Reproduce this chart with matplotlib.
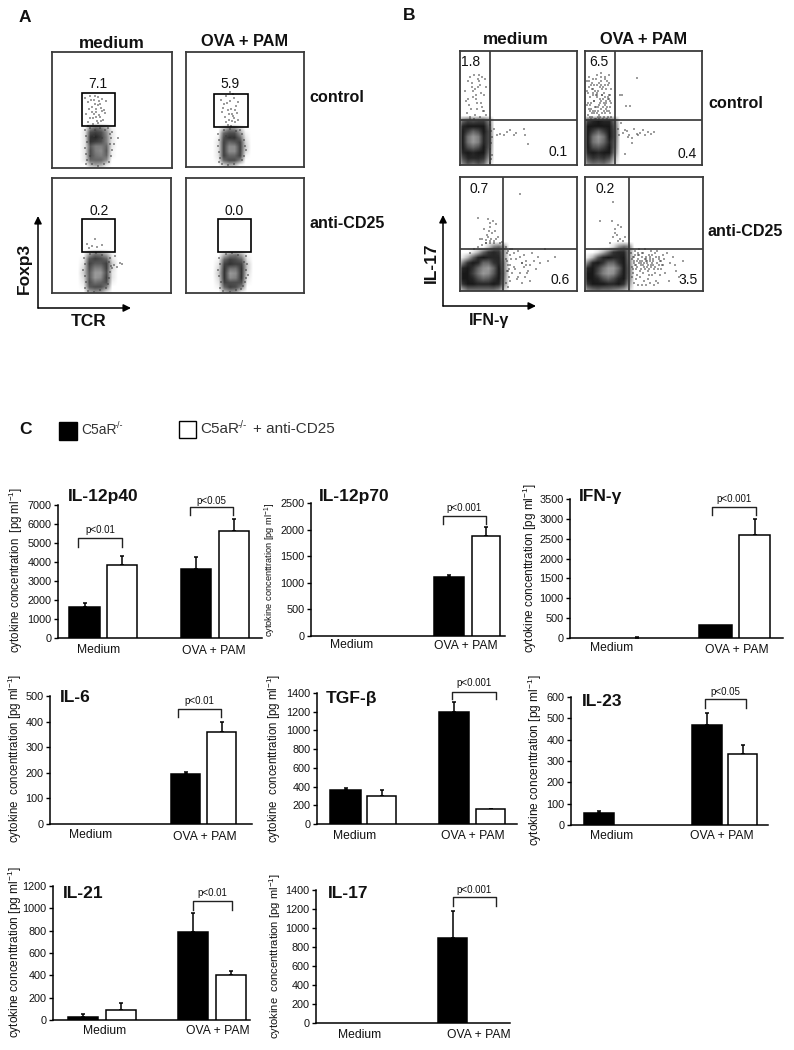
import matplotlib
matplotlib.use('Agg')
import matplotlib.pyplot as plt
from matplotlib.patches import Rectangle
import numpy as np

plt.rcParams['font.family'] = ['Liberation Sans', 'DejaVu Sans']
plt.rcParams['mathtext.default'] = 'regular'

W, H = 794, 1050
TXT = '#111111'

# bar values: [Medium, OVA + PAM], 0 means no bar
il12p40_black = [1650, 3650]
il12p40_white = [3830, 5650]
il12p40_black_top = [1840, 4280]
il12p40_white_top = [4330, 6260]
il12p70_black = [0, 1100]
il12p70_white = [0, 1880]
il12p70_black_top = [0, 1140]
il12p70_white_top = [0, 2050]
ifng_black = [0, 320]
ifng_white = [0, 2600]
ifng_black_top = [0, 0]
ifng_white_top = [25, 3000]
il6_black = [0, 197]
il6_white = [0, 360]
il6_black_top = [0, 205]
il6_white_top = [0, 400]
tgfb_black = [365, 1195]
tgfb_white = [295, 155]
tgfb_black_top = [390, 1300]
tgfb_white_top = [365, 165]
il23_black = [55, 470]
il23_white = [0, 335]
il23_black_top = [65, 525]
il23_white_top = [0, 375]
il21_black = [30, 790]
il21_white = [90, 400]
il21_black_top = [50, 955]
il21_white_top = [150, 440]
il17_black = [0, 900]
il17_white = [0, 0]
il17_black_top = [0, 1180]
il17_white_top = [0, 0]

# flow plots: coarse grey density read off each blob, and the loose dots
# (dots are px offsets from the panel's top left corner)
a1_grid = [[.05, .45, .6, .5, .3, .05],
           [.1, .7, .75, .7, .45, .1],
           [.1, .8, .85, .75, .5, .1],
           [.1, .8, .75, .7, .5, .1],
           [.1, .65, .5, .5, .6, .1],
           [.1, .7, .5, .45, .65, .05],
           [.1, .7, .55, .5, .6, .05],
           [.1, .6, .6, .6, .45, 0],
           [0, .3, .4, .35, .1, 0]]
a1_x = [33, 36, 38, 40, 42, 44, 46, 48, 50, 52, 54, 34, 37, 41, 43, 45, 47, 49, 51, 53, 36, 39, 42, 44, 46, 48, 50, 38, 41, 43, 46, 49, 40, 44, 47, 66, 62,
        33, 34, 35, 33, 34, 35, 34, 36, 60, 59, 58, 60, 59, 57, 56, 58, 38, 43, 48, 53, 40, 46, 52, 42, 50, 38]
a1_y = [46, 50, 44, 55, 48, 60, 45, 52, 47, 58, 49, 62, 57, 66, 52, 69, 63, 56, 68, 61, 70, 48, 62, 57, 71, 65, 59, 66, 72, 44, 53, 69, 60, 65, 49, 86, 92,
        78, 84, 90, 96, 102, 108, 112, 74, 80, 86, 92, 98, 104, 110, 76, 82, 76, 78, 76, 78, 112, 114, 112, 84, 86, 104]

a2_grid = [[0, .25, .5, .45, .2, 0],
           [0, .6, .7, .7, .4, .05],
           [.05, .7, .8, .8, .6, .1],
           [.1, .75, .6, .65, .75, .15],
           [.1, .75, .45, .45, .75, .2],
           [.1, .75, .45, .45, .75, .15],
           [.1, .75, .6, .6, .75, .05],
           [.05, .6, .7, .7, .5, 0],
           [0, .2, .35, .3, .05, 0]]
a2_x = [35, 38, 40, 42, 44, 46, 48, 50, 52, 36, 39, 41, 43, 45, 47, 49, 51, 37, 40, 43, 46, 49, 42, 45, 48, 44, 47, 52,
        32, 33, 32, 33, 34, 33, 56, 58, 59, 60, 58, 56, 54, 38, 44, 50, 36, 42, 48, 40, 46]
a2_y = [48, 52, 44, 58, 49, 62, 46, 54, 50, 60, 65, 51, 68, 57, 64, 70, 61, 56, 70, 62, 69, 58, 73, 74, 66, 40, 42, 68,
        82, 88, 94, 100, 106, 110, 82, 88, 94, 98, 104, 108, 78, 78, 77, 79, 112, 113, 112, 84, 86]

a3_grid = [[0, .35, .55, .5, .3, .05],
           [.05, .65, .75, .7, .6, .1],
           [.1, .75, .65, .65, .75, .2],
           [.15, .7, .5, .5, .75, .15],
           [.2, .65, .4, .4, .7, .1],
           [.15, .65, .4, .45, .75, .1],
           [.1, .7, .55, .6, .7, .05],
           [.05, .65, .7, .7, .5, 0],
           [0, .35, .45, .4, .15, 0]]
a3_x = [35, 40, 43, 45, 50, 37, 60, 62, 65, 68, 70, 57, 63,
        32, 33, 31, 33, 34, 33, 58, 59, 58, 57, 56, 54, 38, 44, 50, 36, 42, 48]
a3_y = [66, 68, 61, 69, 67, 70, 90, 87, 89, 85, 86, 84, 78,
        80, 86, 92, 98, 104, 110, 80, 88, 94, 100, 106, 110, 76, 75, 77, 113, 114, 112]

a4_grid = [[0, .3, .5, .55, .35, .05],
           [.05, .6, .75, .7, .6, .1],
           [.1, .75, .8, .75, .75, .2],
           [.15, .8, .55, .55, .8, .2],
           [.2, .8, .4, .45, .8, .15],
           [.15, .8, .45, .5, .8, .1],
           [.1, .75, .7, .7, .7, .05],
           [.05, .6, .75, .7, .5, 0],
           [0, .3, .45, .4, .1, 0]]
a4_x = [58, 60, 62, 33, 34, 32, 33, 35, 34, 60, 61, 60, 59, 57, 55, 40, 46, 52, 37, 44, 50]
a4_y = [84, 92, 97, 80, 86, 92, 98, 104, 110, 78, 86, 100, 104, 108, 111, 76, 75, 77, 113, 114, 112]

b1_grid = [[.6, .75, .7, .75, .75, .5],
           [.85, .9, .9, .9, .9, .6],
           [.9, .75, .6, .7, .9, .7],
           [.9, .55, .4, .5, .85, .7],
           [.9, .55, .4, .5, .85, .7],
           [.9, .7, .6, .7, .9, .65],
           [.85, .9, .85, .9, .9, .55],
           [.7, .85, .85, .85, .8, .4],
           [.5, .7, .6, .7, .6, .2]]
b1_x = [5, 8, 10, 12, 14, 16, 18, 20, 22, 24, 26, 6, 9, 11, 13, 15, 17, 19, 21, 23, 25, 7, 10, 13, 16, 19, 22, 8, 12, 15, 18, 21, 24, 14, 20, 17, 26, 10,
        34, 37, 40, 44, 47, 50, 54, 56, 64, 65, 68, 30, 31, 32, 31, 30, 32, 31, 30]
b1_y = [40, 30, 26, 36, 24, 44, 28, 34, 26, 44, 36, 50, 54, 58, 46, 38, 52, 30, 42, 60, 28, 62, 66, 40, 48, 24, 56, 48, 32, 64, 36, 52, 60, 68, 66, 58, 64, 68,
        78, 84, 83, 84, 81, 79, 84, 82, 78, 84, 93, 74, 80, 86, 92, 98, 104, 108, 112]

b2_grid = [[.75, .85, .9, .85, .85, .55],
           [.9, .9, .9, .9, .9, .65],
           [.9, .75, .6, .75, .9, .7],
           [.9, .55, .4, .55, .9, .7],
           [.9, .55, .45, .6, .85, .65],
           [.9, .7, .65, .75, .9, .6],
           [.85, .9, .85, .9, .9, .5],
           [.7, .8, .75, .8, .7, .3],
           [.5, .6, .55, .6, .45, .15]]
b2_x = [2, 4, 6, 8, 10, 12, 14, 16, 18, 20, 22, 24, 26, 3, 5, 7, 9, 11, 13, 15, 17, 19, 21, 23, 25, 2, 4, 6, 8, 10, 12, 14, 16, 18, 20, 22, 24, 26, 3, 5, 7, 9, 11, 13, 15, 17, 19, 21, 23, 25, 4, 8, 12, 16, 20, 24, 6, 10, 14, 18, 22, 26, 3, 7, 11, 15, 19, 23,
        5, 9, 13, 17, 21, 25, 2, 16, 20, 12,
        6, 10, 14, 18, 22, 8, 12, 16, 20, 24, 5, 9, 13, 17, 21, 25, 7, 11, 15, 19, 23, 4, 8, 12, 16, 20, 24,
        52, 35, 37, 41, 45, 33, 34, 36, 42, 38, 44, 47, 49, 52, 55, 58, 60, 63, 66, 69, 40, 43, 47, 53, 40]
b2_y = [30, 26, 34, 28, 40, 24, 32, 22, 36, 26, 30, 24, 38, 42, 46, 38, 50, 44, 40, 48, 44, 52, 38, 46, 50, 54, 58, 52, 60, 56, 62, 54, 58, 48, 62, 56, 60, 52, 64, 60, 66, 62, 68, 60, 66, 62, 66, 58, 66, 62, 36, 44, 34, 30, 28, 44, 68, 68, 68, 68, 68, 66, 52, 32, 28, 36, 42, 34,
        66, 34, 56, 38, 50, 56, 40, 26, 54, 44,
        58, 60, 64, 56, 60, 42, 46, 50, 46, 48, 54, 50, 66, 44, 52, 44, 62, 56, 52, 60, 48, 30, 38, 42, 34, 34, 32,
        27, 44, 44, 55, 55, 78, 84, 72, 80, 82, 84, 87, 78, 83, 82, 79, 84, 81, 83, 81, 79, 86, 92, 84, 103]

b3_grid = [[0, 0, 0, 0, 0, .2, .5, .6, .4],
           [0, 0, .1, .3, .6, .8, .85, .8, .4],
           [.1, .3, .6, .85, .9, .85, .85, .85, .4],
           [.5, .8, .9, .85, .6, .6, .8, .85, .5],
           [.85, .9, .8, .6, .45, .4, .6, .9, .5],
           [.9, .9, .75, .55, .4, .45, .65, .9, .55],
           [.9, .9, .85, .7, .6, .65, .8, .9, .5],
           [.8, .9, .9, .85, .85, .85, .9, .85, .45],
           [.4, .6, .6, .6, .6, .6, .6, .5, .2]]
b3_x = [60, 18, 30, 28, 33, 36, 30, 24, 35, 27, 32, 28, 31, 26, 22, 34, 38, 26, 30, 34, 36, 40, 42, 20, 29,
        46, 48, 50, 52, 54, 56, 58, 60, 62, 64, 66, 68, 70, 72, 74, 76, 78, 80, 85, 88, 95, 50, 55, 60, 65, 47, 52, 57, 62, 67, 70, 66, 62, 48, 54, 58, 64, 50,
        47, 46, 48, 47, 49, 46, 48, 50, 51, 49, 10, 14, 18, 22, 26, 30]
b3_y = [17, 41, 46, 42, 44, 47, 50, 52, 54, 58, 56, 60, 62, 63, 62, 64, 60, 66, 66, 66, 62, 66, 65, 62, 54,
        70, 74, 78, 72, 76, 82, 74, 80, 86, 90, 84, 94, 88, 76, 84, 92, 80, 86, 72, 84, 80, 88, 92, 96, 100, 84, 96, 102, 86, 96, 104, 88, 106, 94, 90, 100, 78, 104,
        76, 82, 88, 94, 100, 106, 110, 72, 82, 92, 76, 72, 70, 68, 66, 64]

b4_grid = [[0, 0, 0, 0, 0, .15, .45, .6, .5],
           [0, 0, .1, .3, .55, .8, .85, .85, .5],
           [.1, .3, .65, .85, .9, .85, .85, .9, .5],
           [.5, .85, .9, .8, .6, .6, .8, .9, .55],
           [.85, .9, .75, .55, .4, .4, .6, .9, .6],
           [.9, .9, .7, .5, .4, .45, .7, .9, .6],
           [.9, .9, .85, .7, .6, .7, .85, .9, .55],
           [.8, .9, .9, .9, .85, .85, .9, .8, .4],
           [.5, .6, .65, .6, .6, .55, .5, .4, .2]]
b4_x = [28, 15, 30, 27, 33, 36, 30, 32, 28, 35, 33, 38, 25, 40,
        46, 48, 50, 52, 54, 56, 58, 60, 62, 64, 66, 68, 70, 72, 74, 76, 78, 47, 49, 51, 53, 55, 57, 59, 61, 63, 65, 67, 69, 71, 73, 75, 77, 48, 50, 52, 54, 56, 58, 60, 62, 64, 66, 68, 70, 72, 74, 76, 79, 82, 85, 88, 91, 47, 51, 55, 59, 63, 67, 71, 75, 80, 90, 49, 53, 57, 61, 65, 69, 73, 84, 94, 98, 100,
        47, 49, 51, 53, 55, 57, 59, 61, 63, 65, 67, 48, 50, 52, 54, 56, 58, 60, 62, 64, 66, 68, 49, 53, 57, 61, 65, 70, 74, 78]
b4_y = [25, 44, 56, 44, 48, 50, 52, 58, 60, 62, 64, 64, 66, 60,
        76, 80, 74, 84, 78, 88, 76, 82, 86, 78, 90, 82, 76, 86, 80, 84, 78, 90, 84, 92, 78, 94, 84, 90, 80, 94, 84, 78, 92, 80, 92, 84, 88, 96, 88, 98, 72, 86, 96, 72, 90, 98, 74, 88, 96, 74, 88, 92, 82, 76, 86, 80, 94, 100, 102, 100, 104, 102, 98, 104, 98, 96, 88, 106, 108, 108, 108, 106, 108, 106, 104, 100, 84, 104,
        82, 86, 88, 82, 84, 80, 86, 84, 88, 82, 86, 92, 78, 90, 86, 92, 88, 92, 84, 92, 88, 84, 80, 76, 76, 82, 80, 90, 82, 88]

fig = plt.figure(figsize=(W / 100, H / 100), dpi=100)


def px_axes(x0, y0, x1, y1):
    return fig.add_axes([x0 / W, 1 - y1 / H, (x1 - x0) / W, (y1 - y0) / H])


def flow_panel(x0, y0, x1, y1, grid, extent, px, py, gate=None, quad=None):
    ax = px_axes(x0, y0, x1, y1)
    g = np.pad(np.array(grid), 1)
    dx = (extent[1] - extent[0]) / (g.shape[1] - 2)
    dy = (extent[2] - extent[3]) / (g.shape[0] - 2)
    ax.imshow(g, cmap='gray_r', vmin=0, vmax=1, aspect='auto', interpolation='bilinear',
              extent=(extent[0] - dx, extent[1] + dx, extent[2] + dy, extent[3] - dy))
    ax.scatter(px, py, s=4, marker='s', c='#3c3c3c', alpha=0.5, linewidths=0)
    ax.set_xlim(0, x1 - x0)
    ax.set_ylim(y1 - y0, 0)
    ax.set_xticks([])
    ax.set_yticks([])
    for s in ax.spines.values():
        s.set_linewidth(1.3)
        s.set_color('#3a3a3a')
    if gate:
        ax.add_patch(Rectangle((gate[0] - x0, gate[1] - y0), gate[2] - gate[0], gate[3] - gate[1],
                               fill=False, ec='black', lw=1.2))
    if quad:
        ax.axvline(quad[0] - x0, color='#333333', lw=1.2)
        ax.axhline(quad[1] - y0, color='#333333', lw=1.2)


# panel A
flow_panel(52, 52, 172, 168, a1_grid, (30, 62, 115, 74), a1_x, a1_y, gate=(82, 93, 115, 126))
flow_panel(186, 52, 304, 167, a2_grid, (29, 62, 115, 75), a2_x, a2_y, gate=(214, 94, 248, 127))
flow_panel(52, 178, 171, 293, a3_grid, (29, 63, 116, 74), a3_x, a3_y, gate=(82, 219, 115, 252))
flow_panel(186, 178, 304, 293, a4_grid, (30, 64, 116, 75), a4_x, a4_y, gate=(218, 219, 251, 252))
# panel B
flow_panel(460, 51, 577, 165, b1_grid, (0, 31, 115, 68), b1_x, b1_y, quad=(490, 120))
flow_panel(585, 51, 702, 165, b2_grid, (0, 32, 115, 68), b2_x, b2_y, quad=(615, 120))
flow_panel(460, 177, 577, 291, b3_grid, (0, 46, 115, 68), b3_x, b3_y, quad=(503, 249))
flow_panel(585, 177, 703, 291, b4_grid, (0, 46, 115, 68), b4_x, b4_y, quad=(629, 249))


def draw_bars(box, ymax, step, black, white, black_top, white_top, slots):
    ax = px_axes(*box)
    ax.set_xlim(box[0], box[2])
    ax.set_ylim(0, ymax)
    for s in ['top', 'right']:
        ax.spines[s].set_visible(False)
    for s in ['left', 'bottom']:
        ax.spines[s].set_linewidth(1.1)
    vals = [(slots[0], black[0], black_top[0], 'black'), (slots[1], white[0], white_top[0], 'white'),
            (slots[2], black[1], black_top[1], 'black'), (slots[3], white[1], white_top[1], 'white')]
    for (l, r), v, top, col in vals:
        c = (l + r) / 2
        if top:
            ax.errorbar(c, v, yerr=[[0], [top - v]], color='black', capsize=1.6, lw=1.1,
                        capthick=1.1, zorder=2)
        if v:
            ax.bar(c, v, width=r - l, color=col, edgecolor='black', lw=1.1, zorder=3)
    ax.set_xticks([])
    ax.set_yticks(range(0, ymax + 1, step))
    ax.tick_params(axis='y', labelsize=7.8, length=3, width=1, pad=1.5, labelcolor=TXT)
    ax.patch.set_alpha(0)
    return ax


p40_box = (58, 505, 262, 638)
p70_box = (311, 503, 505, 636)
ifn_box = (570, 499, 783, 638)
il6_box = (50, 696, 252, 824)
tgf_box = (317, 693, 517, 824)
il23_box = (571, 697, 768, 825)
il21_box = (53, 886, 250, 1020)
il17_box = (316, 890, 510, 1023)

draw_bars(p40_box, 7000, 1000, il12p40_black, il12p40_white, il12p40_black_top, il12p40_white_top,
          [(69, 100), (107, 137), (181, 211), (219, 249)])
draw_bars(p70_box, 2500, 500, il12p70_black, il12p70_white, il12p70_black_top, il12p70_white_top,
          [(320, 350), (360, 390), (434, 464), (472, 500)])
draw_bars(ifn_box, 3500, 500, ifng_black, ifng_white, ifng_black_top, ifng_white_top,
          [(590, 620), (622, 652), (699, 732), (739, 770)])
draw_bars(il6_box, 500, 100, il6_black, il6_white, il6_black_top, il6_white_top,
          [(62, 92), (100, 130), (171, 200), (207, 236)])
draw_bars(tgf_box, 1400, 200, tgfb_black, tgfb_white, tgfb_black_top, tgfb_white_top,
          [(330, 361), (367, 396), (439, 469), (476, 505)])
draw_bars(il23_box, 600, 100, il23_black, il23_white, il23_black_top, il23_white_top,
          [(584, 614), (622, 652), (692, 722), (728, 757)])
draw_bars(il21_box, 1200, 200, il21_black, il21_white, il21_black_top, il21_white_top,
          [(68, 98), (106, 136), (178, 208), (216, 246)])
draw_bars(il17_box, 1400, 200, il17_black, il17_white, il17_black_top, il17_white_top,
          [(330, 360), (370, 400), (438, 467), (475, 505)])

# overlay in picture pixels for all the labels
top = fig.add_axes([0, 0, 1, 1])
top.set_xlim(0, W)
top.set_ylim(H, 0)
top.axis('off')
top.patch.set_alpha(0)


def t(x, y, s, size=8, weight='normal', ha='center', rot=0, color=TXT):
    top.text(x, y, s, fontsize=size, fontweight=weight, ha=ha, va='center', rotation=rot, color=color)


def bracket(x0, x1, y, y_end, label, lab_y):
    top.plot([x0, x0, x1, x1], [y_end, y, y, y_end], color='#222222', lw=1)
    t((x0 + x1) / 2, lab_y, label, size=7)


def arrows(x, y_bot, y_top, x_end):
    for end in [(x, y_top), (x_end, y_bot)]:
        top.annotate('', xy=end, xytext=(x, y_bot),
                     arrowprops=dict(arrowstyle='-|>', color='black', lw=1.1, mutation_scale=11,
                                     shrinkA=0, shrinkB=0))


t(19, 17, 'A', 12.5, 'bold', ha='left')
t(403, 15, 'B', 12.5, 'bold', ha='left')
t(19, 429, 'C', 12.5, 'bold', ha='left')

t(112, 43, 'medium', 12.3, 'bold')
t(245, 42, 'OVA + PAM', 11.8, 'bold')
t(516, 40, 'medium', 12.3, 'bold')
t(644, 40, 'OVA + PAM', 11.8, 'bold')
t(309, 97, 'control', 11.6, 'bold', ha='left')
t(309, 224, 'anti-CD25', 11.6, 'bold', ha='left')
t(708, 104, 'control', 11.6, 'bold', ha='left')
t(708, 231, 'anti-CD25', 11.6, 'bold', ha='left')

for x, y, s in [(98, 84, '7.1'), (230, 84, '5.9'), (99, 211, '0.2'), (234, 211, '0.0'),
                (471, 62, '1.8'), (599, 62, '6.5'), (558, 152, '0.1'), (687, 154, '0.4'),
                (479, 189, '0.7'), (605, 189, '0.2'), (560, 280, '0.6'), (688, 280, '3.5')]:
    t(x, y, s, 10)

arrows(38, 308, 216, 131)
arrows(443, 306, 215, 536)
t(24, 268, 'Foxp3', 12.5, 'bold', rot=90)
t(89, 321, 'TCR', 12.5, 'bold')
t(431, 263, 'IL-17', 12.5, 'bold', rot=90)
t(489, 320, 'IFN-γ', 11.5, 'bold')

# legend for panel C
top.add_patch(Rectangle((59, 422), 18, 18, fc='black', ec='black', lw=1))
top.add_patch(Rectangle((179, 421), 17, 17, fc='white', ec='black', lw=1))
t(81, 430, 'C5aR', 10, ha='left', color='#333333')
t(115, 426, '-/-', 6.5, ha='left', color='#333333')
t(200, 429, 'C5aR', 11, ha='left', color='#333333')
t(238, 425, '-/-', 7, ha='left', color='#333333')
t(253, 429, '+ anti-CD25', 11, ha='left', color='#333333')

# titles
t(103, 497, 'IL-12p40', 12.5, 'bold')
t(354, 496, 'IL-12p70', 12.5, 'bold')
t(600, 497, 'IFN-γ', 12.5, 'bold')
t(75, 698, 'IL-6', 12.5, 'bold')
t(352, 699, 'TGF-β', 12.5, 'bold')
t(602, 702, 'IL-23', 12.5, 'bold')
t(83, 893, 'IL-21', 12.5, 'bold')
t(348, 893, 'IL-17', 12.5, 'bold')

# category labels
for x, y, s in [(99, 650, 'Medium'), (214, 651, 'OVA + PAM'),
                (352, 645, 'Medium'), (466, 646, 'OVA + PAM'),
                (612, 648, 'Medium'), (737, 650, 'OVA + PAM'),
                (91, 835, 'Medium'), (205, 837, 'OVA + PAM'),
                (355, 836, 'Medium'), (473, 836, 'OVA + PAM'),
                (612, 836, 'Medium'), (722, 836, 'OVA + PAM'),
                (105, 1031, 'Medium'), (218, 1031, 'OVA + PAM'),
                (360, 1035, 'Medium'), (479, 1035, 'OVA + PAM')]:
    t(x, y, s, 8.7)

# y labels
unit = '[pg ml$^{-1}$]'
t(16, 570, 'cytokine concentration  ' + unit, 8.3, rot=90)
t(270, 570, 'cytokine concenttration [pg ml$^{-1}$]', 6.7, rot=90)
t(530, 568, 'cytokine concenttration ' + unit, 8.5, rot=90)
t(15, 758, 'cytokine  concenttration ' + unit, 8.3, rot=90)
t(274, 758, 'cytokine  concenttration ' + unit, 8.3, rot=90)
t(535, 760, 'cytokine concenttration ' + unit, 8.6, rot=90)
t(15, 952, 'cytokine concenttration ' + unit, 8.6, rot=90)
t(275, 956, 'cytokine  concenttration ' + unit, 8.1, rot=90)

# significance brackets
bracket(78, 122, 538, 547, 'p<0.01', 530)
bracket(190, 233, 507, 515, 'p<0.05', 501)
bracket(443, 486, 516, 524, 'p<0.001', 508)
bracket(712, 756, 507, 515, 'p<0.001', 499)
bracket(178, 221, 709, 717, 'p<0.01', 701)
bracket(452, 496, 692, 699, 'p<0.001', 683)
bracket(705, 746, 699, 708, 'p<0.05', 692)
bracket(193, 232, 901, 910, 'p<0.01', 893)
bracket(453, 496, 897, 906, 'p<0.001', 890)

fig.savefig('out.png', dpi=100)
